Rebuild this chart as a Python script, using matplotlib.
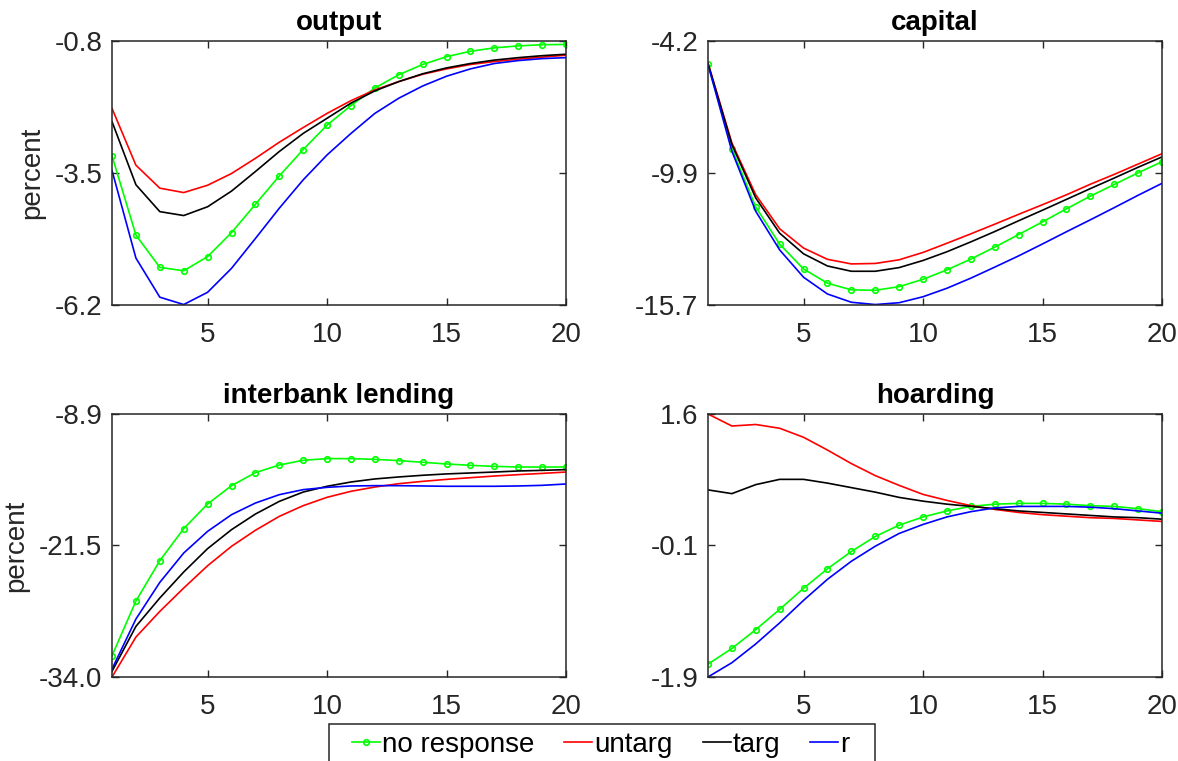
import matplotlib.pyplot as plt
from matplotlib.patches import Rectangle
import numpy as np

plt.rcParams['font.family'] = ['Liberation Sans', 'DejaVu Sans']

periods = np.arange(1, 21)

# output
output_none = [-3.15, -4.77, -5.43, -5.50, -5.21, -4.72, -4.14, -3.56, -3.02, -2.52,
               -2.12, -1.76, -1.49, -1.28, -1.12, -1.01, -0.94, -0.90, -0.875, -0.87]
output_untarg = [-2.18, -3.34, -3.81, -3.90, -3.75, -3.51, -3.20, -2.87, -2.57, -2.28,
                 -2.02, -1.80, -1.63, -1.48, -1.37, -1.28, -1.22, -1.17, -1.13, -1.09]
output_targ = [-2.45, -3.74, -4.29, -4.37, -4.19, -3.87, -3.47, -3.06, -2.69, -2.38,
               -2.07, -1.82, -1.63, -1.47, -1.35, -1.26, -1.19, -1.14, -1.10, -1.07]
output_r = [-3.45, -5.24, -6.04, -6.19, -5.94, -5.45, -4.84, -4.22, -3.64, -3.13,
            -2.69, -2.28, -1.97, -1.72, -1.52, -1.37, -1.26, -1.20, -1.16, -1.14]

# capital
capital_none = [-5.22, -8.89, -11.43, -13.05, -14.13, -14.75, -15.04, -15.06, -14.90, -14.58,
                -14.17, -13.70, -13.18, -12.63, -12.08, -11.51, -10.96, -10.45, -9.94, -9.46]
capital_untarg = [-5.15, -8.64, -10.90, -12.38, -13.22, -13.71, -13.91, -13.89, -13.73, -13.41,
                  -13.01, -12.60, -12.18, -11.75, -11.33, -10.90, -10.44, -10.01, -9.56, -9.11]
capital_targ = [-5.18, -8.71, -11.04, -12.57, -13.47, -14.00, -14.23, -14.23, -14.07, -13.76,
                -13.38, -12.95, -12.50, -12.03, -11.57, -11.10, -10.63, -10.17, -9.70, -9.25]
capital_r = [-5.22, -9.00, -11.62, -13.30, -14.49, -15.22, -15.58, -15.68, -15.60, -15.34,
             -14.97, -14.53, -14.05, -13.56, -13.04, -12.51, -11.99, -11.46, -10.92, -10.40]

# interbank lending
lending_none = [-31.97, -26.75, -22.90, -19.84, -17.49, -15.74, -14.50, -13.77, -13.32, -13.16,
                -13.16, -13.23, -13.35, -13.51, -13.67, -13.80, -13.90, -13.96, -13.96, -13.96]
lending_untarg = [-34.0, -30.19, -27.74, -25.51, -23.38, -21.53, -20.00, -18.67, -17.65, -16.85,
                  -16.28, -15.87, -15.55, -15.33, -15.14, -14.98, -14.82, -14.69, -14.57, -14.44]
lending_targ = [-33.46, -29.17, -26.46, -23.98, -21.75, -19.94, -18.45, -17.24, -16.35, -15.80,
                -15.39, -15.10, -14.91, -14.75, -14.62, -14.53, -14.44, -14.34, -14.28, -14.21]
lending_r = [-33.24, -28.47, -24.97, -22.17, -20.10, -18.51, -17.40, -16.60, -16.12, -15.90,
             -15.77, -15.74, -15.74, -15.77, -15.80, -15.80, -15.80, -15.77, -15.71, -15.58]

# hoarding
hoard_none = [-1.73, -1.52, -1.27, -1.00, -0.72, -0.46, -0.23, -0.03, 0.12, 0.23,
              0.31, 0.37, 0.40, 0.41, 0.41, 0.40, 0.38, 0.37, 0.34, 0.30]
hoard_untarg = [1.60, 1.44, 1.46, 1.41, 1.29, 1.12, 0.94, 0.78, 0.65, 0.53,
                0.45, 0.38, 0.33, 0.29, 0.26, 0.24, 0.22, 0.21, 0.19, 0.17]
hoard_targ = [0.59, 0.54, 0.66, 0.73, 0.73, 0.68, 0.62, 0.56, 0.49, 0.44,
              0.40, 0.37, 0.34, 0.31, 0.29, 0.27, 0.25, 0.23, 0.22, 0.20]
hoard_r = [-1.90, -1.71, -1.46, -1.18, -0.88, -0.60, -0.36, -0.16, 0.01, 0.13,
           0.23, 0.30, 0.35, 0.37, 0.37, 0.37, 0.36, 0.34, 0.31, 0.28]

titles = ['output', 'capital', 'interbank lending', 'hoarding']
series = [
    (output_none, output_untarg, output_targ, output_r),
    (capital_none, capital_untarg, capital_targ, capital_r),
    (lending_none, lending_untarg, lending_targ, lending_r),
    (hoard_none, hoard_untarg, hoard_targ, hoard_r),
]
y_limits = [(-6.2, -0.8), (-15.7, -4.2), (-34.0, -8.9), (-1.9, 1.6)]
y_ticklabels = [['-6.2', '-3.5', '-0.8'],
                ['-15.7', '-9.9', '-4.2'],
                ['-34.0', '-21.5', '-8.9'],
                ['-1.9', '-0.1', '1.6']]
x_ticks = [5, 10, 15, 20]
legend_labels = ['no response', 'untarg', 'targ', 'r']

axis_color = '#262626'
fs = 20

fig = plt.figure(figsize=(11.78, 7.61), dpi=100)
# [left, bottom, width, height] in figure fractions
positions = [[0.0951, 0.5992, 0.3854, 0.3469],
             [0.6010, 0.5992, 0.3854, 0.3469],
             [0.0951, 0.1104, 0.3854, 0.3456],
             [0.6010, 0.1104, 0.3854, 0.3456]]

handles = None
for i, pos in enumerate(positions):
    ax = fig.add_axes(pos)
    none, untarg, targ, r = series[i]
    h1, = ax.plot(periods, none, color=(0, 1, 0), lw=1.2, marker='o',
                  markersize=4, markerfacecolor='none', markeredgewidth=1.2)
    h2, = ax.plot(periods, untarg, color=(1, 0, 0), lw=1.2)
    h3, = ax.plot(periods, targ, color='black', lw=1.2)
    h4, = ax.plot(periods, r, color=(0, 0, 1), lw=1.2)
    handles = [h1, h2, h3, h4]

    lo, hi = y_limits[i]
    ax.set_xlim(1, 20)
    ax.set_ylim(lo, hi)
    ax.set_xticks(x_ticks)
    ax.set_yticks(np.linspace(lo, hi, 3))
    ax.set_yticklabels(y_ticklabels[i])
    ax.tick_params(direction='in', top=True, right=True, length=5, width=1,
                   labelsize=fs, colors=axis_color, labelcolor=axis_color)
    ax.tick_params(axis='x', pad=12)
    ax.tick_params(axis='y', pad=7)
    for spine in ax.spines.values():
        spine.set_color(axis_color)
        spine.set_linewidth(1.1)
    ax.set_title(titles[i], fontsize=fs, fontweight='bold', pad=8)
    if i % 2 == 0:
        ax.set_ylabel('percent', fontsize=fs, color=axis_color, labelpad=7)

# legend box runs off the bottom edge, so draw its frame by hand
fig.patches.append(Rectangle((329 / 1178, -0.05), 546 / 1178, 0.05 + 37 / 761,
                             transform=fig.transFigure, facecolor='white',
                             edgecolor=axis_color, linewidth=1.1, zorder=0))
fig.legend(handles, legend_labels, loc='upper left', ncol=4,
           bbox_to_anchor=(352 / 1178, 1 - 732 / 761), fontsize=fs, frameon=False,
           handlelength=1.0, handletextpad=0.08, columnspacing=1.08,
           borderaxespad=0, borderpad=0)

fig.savefig('out.png', dpi=100)
